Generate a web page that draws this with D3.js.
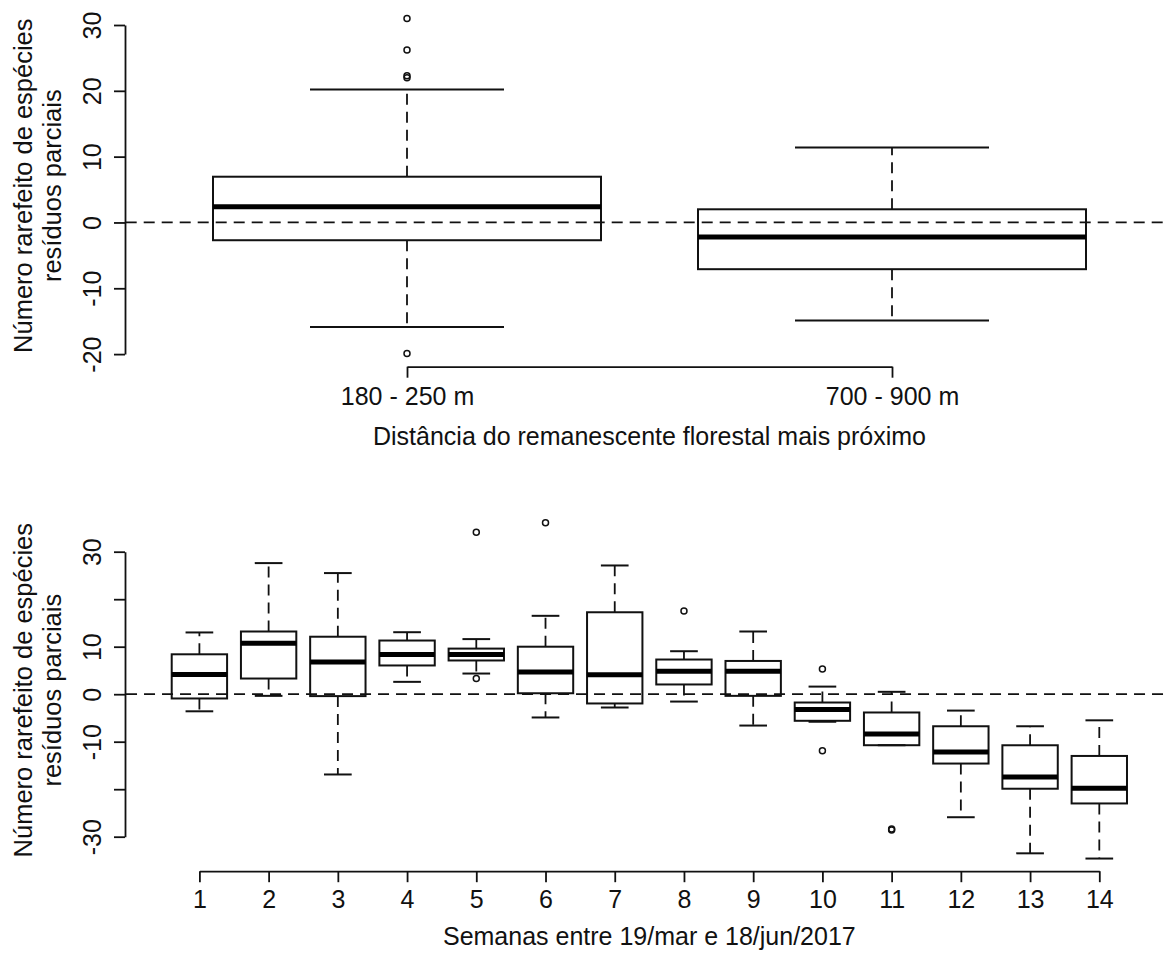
<!DOCTYPE html>
<html>
<head>
<meta charset="utf-8">
<script src="https://cdn.jsdelivr.net/npm/d3@7"></script>
<style>
  html, body { margin: 0; padding: 0; background: #fff; }
  svg { display: block; }
  text { font-family: "Liberation Sans", Arial, sans-serif; fill: #111; }
</style>
</head>
<body>
<svg id="chart" width="1168" height="953"></svg>
<script>
// ---------- Data: top panel (distance to nearest forest remnant) ----------
const distCategories = ["180 - 250 m", "700 - 900 m"];
const distWhiskerLow  = [-15.9, -14.9];
const distQ1          = [-2.7, -7.1];
const distMedian      = [2.4, -2.2];
const distQ3          = [6.95, 2.0];
const distWhiskerHigh = [20.2, 11.4];
const distOutliers    = [[31.0, 26.2, 22.3, 22.0, -19.9], []];
const distYTicks      = [-20, -10, 0, 10, 20, 30];
const distYTickLabels = ["-20", "-10", "0", "10", "20", "30"];

// ---------- Data: bottom panel (weeks) ----------
const weekCategories  = ["1","2","3","4","5","6","7","8","9","10","11","12","13","14"];
const weekWhiskerLow  = [-3.6, -0.35, -16.9, 2.6, 4.35, -4.9, -2.8, -1.55, -6.6, -5.8, -10.74, -25.9, -33.5, -34.6];
const weekQ1          = [-0.9, 3.3, -0.4, 6.05, 7.1, 0.2, -1.95, 2.05, -0.35, -5.6, -10.74, -14.6, -19.9, -23.0];
const weekMedian      = [4.15, 10.75, 6.8, 8.35, 8.35, 4.65, 4.1, 4.85, 4.85, -3.2, -8.4, -12.15, -17.45, -19.8];
const weekQ3          = [8.4, 13.2, 12.1, 11.3, 9.6, 10.0, 17.25, 7.3, 7.0, -1.75, -3.85, -6.75, -10.75, -13.0];
const weekWhiskerHigh = [13.0, 27.6, 25.5, 13.05, 11.6, 16.5, 27.1, 9.05, 13.2, 1.6, 0.5, -3.45, -6.75, -5.5];
const weekOutliers    = [[], [], [], [], [34.1, 3.3], [36.1], [], [17.5], [], [5.3, -11.9], [-28.6, -28.4], [], [], []];
const weekYTicks      = [-30, -20, -10, 0, 10, 20, 30];
const weekYTickLabels = ["-30", "", "-10", "0", "10", "", "30"];

const yTitleLines = ["Número rarefeito de espécies", "resíduos parciais"];
const distXTitle = "Distância do remanescente florestal mais próximo";
const weekXTitle = "Semanas entre 19/mar e 18/jun/2017";

// ---------- Drawing ----------
const svg = d3.select("#chart");
const FONT = 25;
const YFONT = 25.5;
const INK = "#111";
const DASH = "11,7";

function panel(cfg) {
  const g = svg.append("g");
  const n = cfg.cats.length;
  const x = d3.scaleLinear().domain([1, n]).range(cfg.xRange);
  const y = d3.scaleLinear().domain([cfg.yTicks[0], cfg.yTicks[cfg.yTicks.length - 1]]).range(cfg.yRange);
  const unit = x(2) - x(1);
  const bw = 0.8 * unit;
  const capW = bw / 2;
  const span = n;
  const uLeft = 0.5 - 0.04 * span, uRight = n + 0.5 + 0.04 * span;

  // zero reference line
  g.append("line")
    .attr("x1", x(uLeft)).attr("x2", x(uRight))
    .attr("y1", y(0)).attr("y2", y(0))
    .attr("stroke", INK).attr("stroke-width", 1.8).attr("stroke-dasharray", DASH);

  const data = cfg.cats.map((c, i) => ({
    c, i, lo: cfg.wl[i], q1: cfg.q1[i], med: cfg.med[i], q3: cfg.q3[i], hi: cfg.wh[i], out: cfg.out[i]
  }));

  const b = g.selectAll("g.box").data(data).join("g").attr("class", "box");
  b.append("line").attr("x1", d => x(d.i + 1)).attr("x2", d => x(d.i + 1))
    .attr("y1", d => y(d.q3)).attr("y2", d => y(d.hi))
    .attr("stroke", INK).attr("stroke-width", 1.8).attr("stroke-dasharray", DASH);
  b.append("line").attr("x1", d => x(d.i + 1)).attr("x2", d => x(d.i + 1))
    .attr("y1", d => y(d.q1)).attr("y2", d => y(d.lo))
    .attr("stroke", INK).attr("stroke-width", 1.8).attr("stroke-dasharray", DASH);
  b.append("line").attr("x1", d => x(d.i + 1) - capW / 2).attr("x2", d => x(d.i + 1) + capW / 2)
    .attr("y1", d => y(d.hi)).attr("y2", d => y(d.hi))
    .attr("stroke", INK).attr("stroke-width", 2);
  b.append("line").attr("x1", d => x(d.i + 1) - capW / 2).attr("x2", d => x(d.i + 1) + capW / 2)
    .attr("y1", d => y(d.lo)).attr("y2", d => y(d.lo))
    .attr("stroke", INK).attr("stroke-width", 2);
  b.append("rect")
    .attr("x", d => x(d.i + 1) - bw / 2).attr("width", bw)
    .attr("y", d => y(d.q3)).attr("height", d => y(d.q1) - y(d.q3))
    .attr("fill", "none").attr("stroke", INK).attr("stroke-width", 2);
  b.append("line").attr("x1", d => x(d.i + 1) - bw / 2).attr("x2", d => x(d.i + 1) + bw / 2)
    .attr("y1", d => y(d.med)).attr("y2", d => y(d.med))
    .attr("stroke", "#000").attr("stroke-width", 5);
  b.selectAll("circle").data(d => d.out.map(v => ({ v, i: d.i }))).join("circle")
    .attr("cx", d => x(d.i + 1)).attr("cy", d => y(d.v)).attr("r", 3)
    .attr("fill", "none").attr("stroke", INK).attr("stroke-width", 1.5);

  // y axis
  const yAxis = d3.axisLeft(y).tickValues(cfg.yTicks)
    .tickFormat((d, i) => cfg.yLabels[i]).tickSize(11).tickSizeOuter(0);
  const ya = g.append("g").attr("transform", `translate(${cfg.yAxisX},0)`).call(yAxis);
  ya.select(".domain").attr("stroke", INK).attr("stroke-width", 1.8);
  ya.selectAll(".tick line").attr("stroke", INK).attr("stroke-width", 1.8);
  ya.selectAll(".tick text")
    .attr("x", null).attr("dy", null)
    .attr("transform", "translate(-24,0) rotate(-90)")
    .attr("text-anchor", "middle")
    .style("font-size", FONT + "px")
    .style("font-family", "'Liberation Sans', Arial, sans-serif").attr("fill", INK);

  // x axis
  const xAxis = d3.axisBottom(x).tickValues(d3.range(1, n + 1))
    .tickFormat((d, i) => cfg.cats[i]).tickSize(11).tickSizeOuter(0);
  const xa = g.append("g").attr("transform", `translate(0,${cfg.xAxisY})`).call(xAxis);
  xa.select(".domain").attr("stroke", INK).attr("stroke-width", 1.8);
  xa.selectAll(".tick line").attr("stroke", INK).attr("stroke-width", 1.8);
  xa.selectAll(".tick text")
    .attr("y", cfg.xLabelDy).attr("dy", null)
    .style("font-size", FONT + "px")
    .style("font-family", "'Liberation Sans', Arial, sans-serif").attr("fill", INK);

  // x title
  g.append("text")
    .attr("x", (x(uLeft) + x(uRight)) / 2).attr("y", cfg.xTitleY)
    .attr("text-anchor", "middle").style("font-size", FONT + "px")
    .text(cfg.xTitle);

  // y title (two lines)
  const yMid = (cfg.plotTop + cfg.xAxisY) / 2;
  yTitleLines.forEach((t, k) => {
    g.append("text")
      .attr("transform", `translate(${cfg.yTitleX[k]},${yMid}) rotate(-90)`)
      .attr("text-anchor", "middle").style("font-size", YFONT + "px")
      .text(t);
  });
}

panel({
  cats: distCategories, wl: distWhiskerLow, q1: distQ1, med: distMedian, q3: distQ3, wh: distWhiskerHigh,
  out: distOutliers, yTicks: distYTicks, yLabels: distYTickLabels,
  xRange: [407, 892], yRange: [354.1, 25], yAxisX: 125, xAxisY: 366.7, plotTop: 4.7,
  xLabelDy: 38.3, xTitle: distXTitle, xTitleY: 444.5, yTitleX: [32, 61]
});

panel({
  cats: weekCategories, wl: weekWhiskerLow, q1: weekQ1, med: weekMedian, q3: weekQ3, wh: weekWhiskerHigh,
  out: weekOutliers, yTicks: weekYTicks, yLabels: weekYTickLabels,
  xRange: [199.4, 1099.3], yRange: [836.7, 551.7], yAxisX: 125, xAxisY: 871.2, plotTop: 509.2,
  xLabelDy: 37.2, xTitle: weekXTitle, xTitleY: 945, yTitleX: [32, 61]
});
</script>
</body>
</html>
